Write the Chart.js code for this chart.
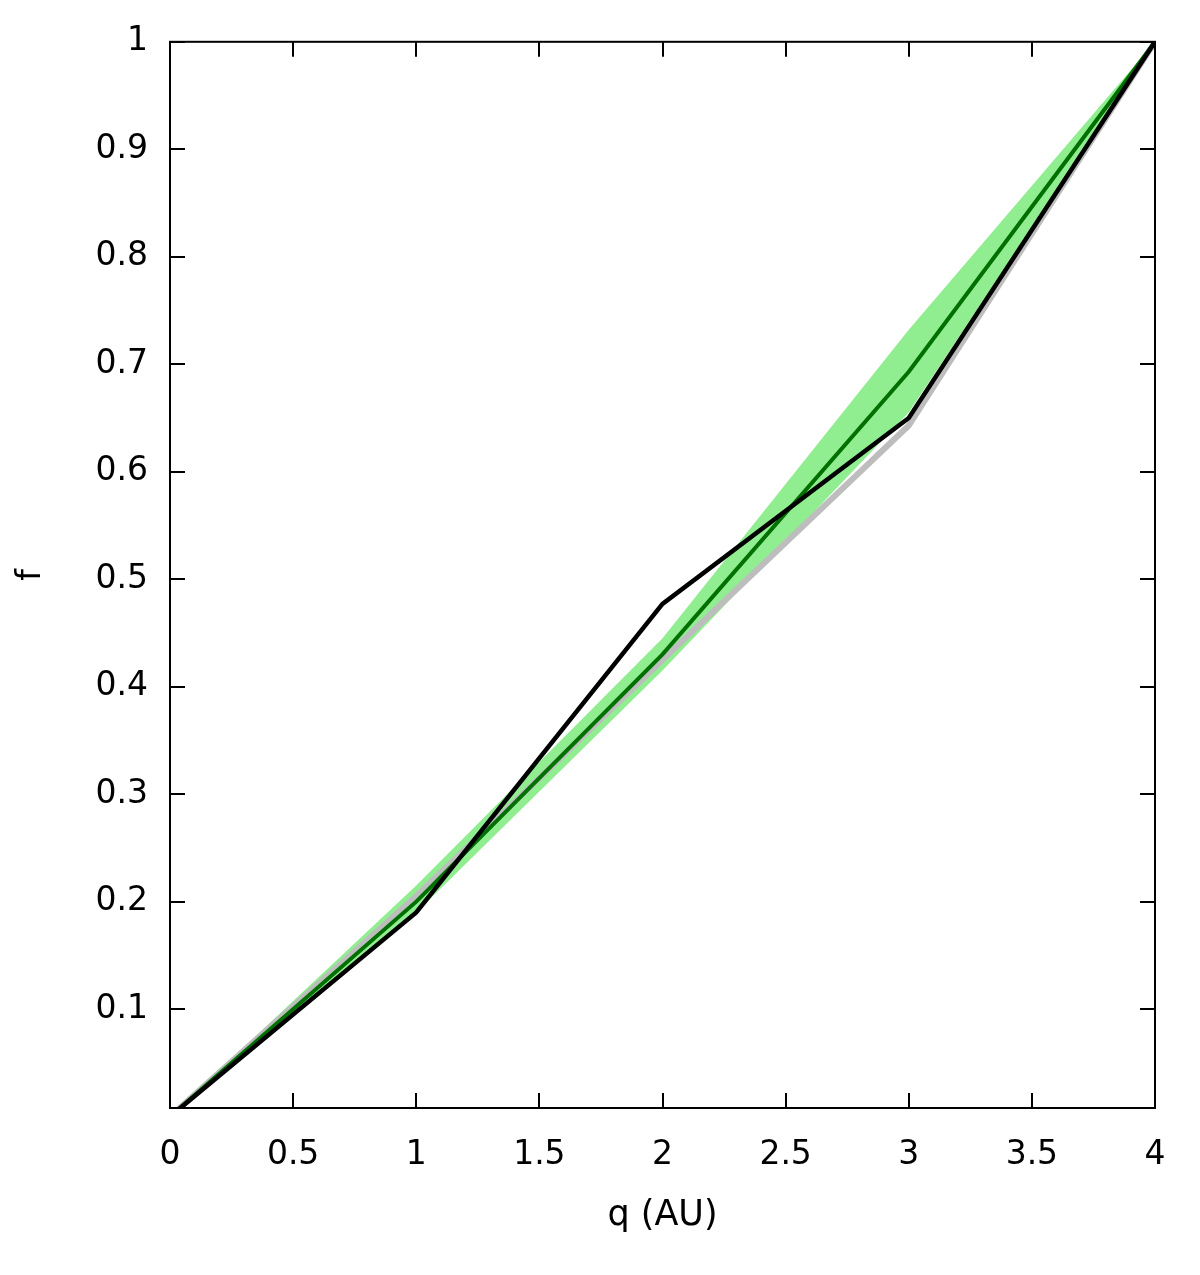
<!DOCTYPE html>
<html>
<head>
<meta charset="utf-8">
<script src="https://cdn.jsdelivr.net/npm/chart.js@4.4.1/dist/chart.umd.min.js"></script>
<style>
  html, body { margin: 0; padding: 0; background: #fff; }
  #wrap { width: 1200px; height: 1275px; }
</style>
</head>
<body>
<div id="wrap"><canvas id="c" width="1200" height="1275"></canvas></div>
<script>
// ---- data ----
const q = [0, 1, 2, 3, 4];
const fBlack = [0, 0.19, 0.477, 0.65, 1];
const fGray = [0, 0.205, 0.425, 0.643, 1];
const fGreen = [0, 0.2, 0.43, 0.693, 1];
const bandLow = [0, 0.19, 0.415, 0.655, 1];
const bandHigh = [0, 0.215, 0.445, 0.732, 1];
const xTicks = [0, 0.5, 1, 1.5, 2, 2.5, 3, 3.5, 4];
const yTicks = [0.1, 0.2, 0.3, 0.4, 0.5, 0.6, 0.7, 0.8, 0.9, 1];
const xLabel = 'q (AU)';
const yLabel = 'f';

const pts = arr => arr.map((v, i) => ({ x: q[i], y: v }));

const FONT = 'DejaVu Sans';

const frameTicks = {
  id: 'frameTicks',
  afterDatasetsDraw(chart) {
    const { ctx, chartArea: a, scales } = chart;
    const L = 15;
    ctx.save();
    ctx.strokeStyle = '#000';
    ctx.lineWidth = 2;
    ctx.strokeRect(a.left, a.top, a.right - a.left, a.bottom - a.top);
    ctx.beginPath();
    xTicks.forEach(v => {
      const px = Math.round(scales.x.getPixelForValue(v));
      ctx.moveTo(px, a.bottom); ctx.lineTo(px, a.bottom - L);
      ctx.moveTo(px, a.top); ctx.lineTo(px, a.top + L);
    });
    yTicks.forEach(v => {
      const py = Math.round(scales.y.getPixelForValue(v));
      ctx.moveTo(a.left, py); ctx.lineTo(a.left + L, py);
      ctx.moveTo(a.right, py); ctx.lineTo(a.right - L, py);
    });
    ctx.stroke();
    ctx.restore();
  }
};

new Chart(document.getElementById('c'), {
  type: 'line',
  data: {
    datasets: [
      { data: pts(bandLow), borderWidth: 0, borderColor: 'rgba(0,0,0,0)', pointRadius: 0, fill: false, order: 5 },
      { data: pts(bandHigh), borderWidth: 0, borderColor: 'rgba(0,0,0,0)', pointRadius: 0,
        fill: '-1', backgroundColor: 'rgb(144,238,144)', order: 4 },
      { data: pts(fGray), borderColor: '#bdbdbd', borderWidth: 6, pointRadius: 0, fill: false, order: 3 },
      { data: pts(fGreen), borderColor: '#007000', borderWidth: 4, pointRadius: 0, fill: false, order: 2 },
      { data: pts(fBlack), borderColor: '#000', borderWidth: 4.5, pointRadius: 0, fill: false, order: 1 }
    ]
  },
  options: {
    responsive: false,
    animation: false,
    layout: { padding: { left: 0, right: 45, top: 40, bottom: 0 } },
    plugins: { legend: { display: false }, tooltip: { enabled: false } },
    elements: { line: { tension: 0, borderJoinStyle: 'miter' } },
    scales: {
      x: {
        type: 'linear', min: 0, max: 4,
        afterBuildTicks: s => { s.ticks = xTicks.map(v => ({ value: v })); },
        afterFit: s => { s.height = 167; },
        grid: { display: false, drawTicks: false },
        border: { display: false },
        ticks: { padding: 28, color: '#000', font: { family: FONT, size: 33 }, maxRotation: 0,
                  callback: v => String(v) },
        title: { display: true, text: xLabel, color: '#000', font: { family: FONT, size: 35 },
                 padding: { top: 0, bottom: 38 } }
      },
      y: {
        type: 'linear', min: 0.008, max: 1,
        afterBuildTicks: s => { s.ticks = yTicks.map(v => ({ value: v })); },
        afterFit: s => { s.width = 170; },
        grid: { display: false, drawTicks: false },
        border: { display: false },
        ticks: { padding: 22, color: '#000', font: { family: FONT, size: 33 },
                 callback: v => String(v) },
        title: { display: true, text: yLabel, color: '#000', font: { family: FONT, size: 33 },
                 padding: { top: 12, bottom: 0 } }
      }
    }
  },
  plugins: [frameTicks]
});
</script>
</body>
</html>
